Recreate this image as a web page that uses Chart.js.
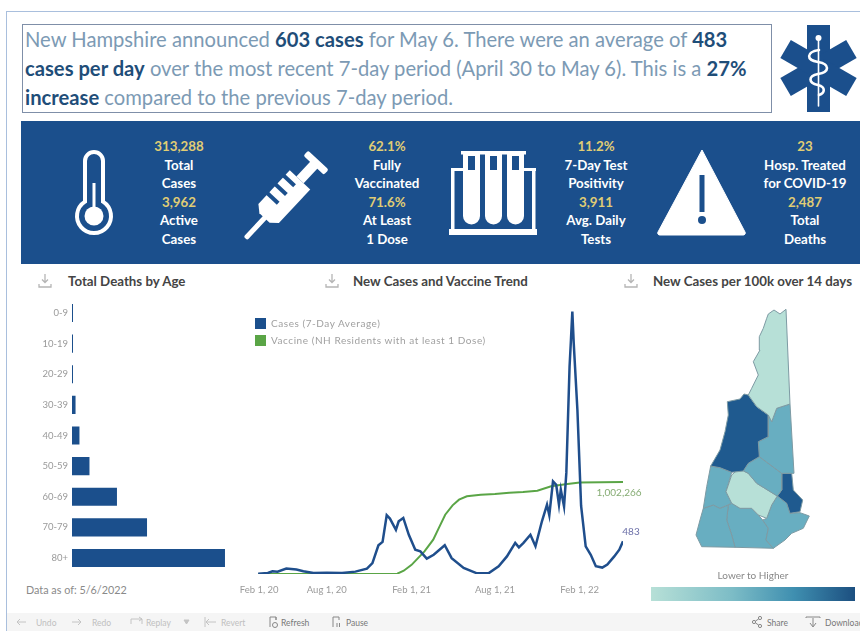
<!DOCTYPE html>
<html>
<head>
<meta charset="utf-8">
<title>New Hampshire COVID-19 Summary</title>
<script src="https://cdn.jsdelivr.net/npm/chart.js@4"></script>
<style>
    html, body { margin: 0; padding: 0; background: #fff; overflow: hidden; }
    body { width: 860px; height: 631px; position: relative; font-family: Lato, sans-serif; }
    .abs { position: absolute; }
    canvas { position: absolute; display: block; }
    #frame { left: 6px; top: 11px; width: 860px; height: 640px; border: 1px solid #a9bfdd; box-sizing: border-box; }
    #headline { left: 22px; top: 24px; width: 750px; height: 89px; border: 1px solid #7f8fa8; box-sizing: border-box;
        padding: 0 0 0 2px; font-size: 20.2px; line-height: 29px; color: #7c9ab4; white-space: nowrap; }
    #headline b { color: #1f4e79; font-weight: 700; }
    #banner { left: 21px; top: 121px; width: 839px; height: 143px; background: #1b4f8c; }
    .stat { position: absolute; top: 137px; width: 110px; text-align: center; color: #fff; font-weight: 700; font-size: 13.3px; line-height: 18.5px; white-space: nowrap; }
    .stat span { color: #e0cd74; display: block; }
    .panel-title { position: absolute; top: 273px; font-size: 13.3px; font-weight: 700; color: #444; white-space: nowrap; }
    .dl { position: absolute; top: 273px; }
    #asof { left: 26px; top: 583px; font-size: 10.8px; color: #8a8a8a; }
    .legend-row { position: absolute; left: 255px; font-size: 10px; letter-spacing: 0.55px; color: #a0a0a0; white-space: nowrap; line-height: 11px; padding-left: 16px; }
    .legend-row i { position: absolute; left: 0; top: 0; width: 11px; height: 11px; }
    #scale-label { left: 652px; width: 202px; top: 569px; text-align: center; font-size: 10px; color: #888; }
    #scale-bar { left: 651px; top: 587px; width: 204px; height: 14px; background: linear-gradient(to right, #b7e0d7, #7cbcc6 40%, #3f8fb0 70%, #1c4f80); }
    #toolbar { left: 7px; top: 613px; width: 853px; height: 18px; background: #f5f5f5; }
    .tool { position: absolute; top: 618px; font-size: 8.5px; color: #c0c0c0; white-space: nowrap; line-height: 10px; }
    .tool.on { color: #777; }
</style>
</head>
<body>
<div class="abs" id="frame"></div>
<div class="abs" id="headline">New Hampshire announced <b>603 cases</b> for May 6. There were an average of <b>483</b><br><b>cases per day</b> over the most recent 7-day period (April 30 to May 6). This is a <b>27%</b><br><b>increase</b> compared to the previous 7-day period.</div>

<svg class="abs" style="left:775px;top:20px" width="85" height="96" viewBox="775 20 85 96">
    <g fill="#1b4f8c">
        <rect x="807" y="25" width="23" height="87"/>
        <rect x="808" y="30" width="21" height="76" transform="rotate(60 818.5 68)"/>
        <rect x="808" y="30" width="21" height="76" transform="rotate(-60 818.5 68)"/>
    </g>
    <g fill="none" stroke="#fff" stroke-linecap="round">
        <line x1="818.5" y1="38" x2="818.5" y2="106" stroke-width="1.6"/>
        <path d="M819 50 C806 52 806 60 818 62 C830 64 830 72 818 74 C808 76 808 83 818 85 C826 87 825 93 819 95" stroke-width="2.6"/>
    </g>
    <circle cx="818.5" cy="38" r="3" fill="#fff"/>
</svg>

<div class="abs" id="banner"></div>
<svg class="abs" style="left:21px;top:121px" width="839" height="143" viewBox="21 121 839 143">
    <!-- thermometer -->
    <path d="M85 201.6 V161 a9 9 0 0 1 18 0 V201.6 A17 17 0 1 1 85 201.6 Z" fill="none" stroke="#fff" stroke-width="4"/>
    <circle cx="94" cy="216" r="9.5" fill="#fff"/>
    <rect x="92.5" y="183" width="3" height="28" fill="#fff"/>
    <!-- syringe -->
    <g transform="translate(285 196) rotate(-47)" fill="#fff">
        <rect x="-58" y="-2.5" width="30" height="5" rx="2"/>
        <path d="M-30 -7 L-24 -14 H22 V14 H-24 L-30 7 Z"/>
        <rect x="22" y="-5" width="22" height="10"/>
        <rect x="42" y="-14" width="7" height="28" rx="2"/>
        <g fill="#1b4f8c">
            <rect x="-12" y="-15" width="4" height="15"/>
            <rect x="0" y="-15" width="4" height="15"/>
            <rect x="12" y="-15" width="4" height="15"/>
        </g>
    </g>
    <!-- test tubes -->
    <g fill="#fff">
        <rect x="449" y="229" width="88" height="6"/>
        <rect x="451" y="168" width="3.5" height="62"/>
        <rect x="532" y="168" width="3.5" height="62"/>
        <rect x="451" y="168" width="14" height="3"/>
        <rect x="522" y="168" width="14" height="3"/>
        <rect x="461" y="151" width="65" height="3.5"/>
        <path d="M463 154 h17 v62 a8.5 8.5 0 0 1 -17 0 Z"/>
        <path d="M485 154 h17 v62 a8.5 8.5 0 0 1 -17 0 Z"/>
        <path d="M507 154 h17 v62 a8.5 8.5 0 0 1 -17 0 Z"/>
    </g>
    <g fill="#1b4f8c">
        <rect x="468" y="156" width="7" height="14"/>
        <rect x="490" y="156" width="7" height="14"/>
        <rect x="512" y="156" width="7" height="14"/>
    </g>
    <!-- warning -->
    <path d="M702 150 L745 232 a2 2 0 0 1 -2 3 H660 a2 2 0 0 1 -2 -3 Z" fill="#fff" stroke="#fff" stroke-width="1" stroke-linejoin="round"/>
    <rect x="699.5" y="175" width="5" height="37" fill="#1b4f8c"/>
    <circle cx="702" cy="220" r="4" fill="#1b4f8c"/>
</svg>

<div class="stat" style="left:124px"><span>313,288</span>Total<br>Cases<span>3,962</span>Active<br>Cases</div>
<div class="stat" style="left:332px"><span>62.1%</span>Fully<br>Vaccinated<span>71.6%</span>At Least<br>1 Dose</div>
<div class="stat" style="left:541px"><span>11.2%</span>7-Day Test<br>Positivity<span>3,911</span>Avg. Daily<br>Tests</div>
<div class="stat" style="left:750px"><span>23</span>Hosp. Treated<br>for COVID-19<span>2,487</span>Total<br>Deaths</div>

<svg class="dl" style="left:38px" width="14" height="16" viewBox="0 0 14 16"><path d="M7 1 V9 M4 6.5 L7 9.5 L10 6.5 M1 11 V14 H13 V11" fill="none" stroke="#b5b5b5" stroke-width="1.3"/></svg>
<svg class="dl" style="left:325px" width="14" height="16" viewBox="0 0 14 16"><path d="M7 1 V9 M4 6.5 L7 9.5 L10 6.5 M1 11 V14 H13 V11" fill="none" stroke="#b5b5b5" stroke-width="1.3"/></svg>
<svg class="dl" style="left:624px" width="14" height="16" viewBox="0 0 14 16"><path d="M7 1 V9 M4 6.5 L7 9.5 L10 6.5 M1 11 V14 H13 V11" fill="none" stroke="#b5b5b5" stroke-width="1.3"/></svg>
<div class="panel-title" style="left:68px">Total Deaths by Age</div>
<div class="panel-title" style="left:353px">New Cases and Vaccine Trend</div>
<div class="panel-title" style="left:653px">New Cases per 100k over 14 days</div>

<canvas id="ageChart" width="215" height="295" style="left:20px;top:288px"></canvas>
<canvas id="trendChart" width="410" height="304" style="left:235px;top:295px"></canvas>
<canvas id="mapChart" width="220" height="270" style="left:640px;top:295px"></canvas>

<div class="legend-row" style="top:318px"><i style="background:#1b4f8c"></i>Cases (7-Day Average)</div>
<div class="legend-row" style="top:335px"><i style="background:#5aa546"></i>Vaccine (NH Residents with at least 1 Dose)</div>

<div class="abs" id="asof">Data as of: 5/6/2022</div>
<div class="abs" id="scale-label">Lower to Higher</div>
<div class="abs" id="scale-bar"></div>

<div class="abs" id="toolbar"></div>
<svg class="abs" style="left:0;top:613px" width="860" height="18" viewBox="0 613 860 18" fill="none" stroke="#c4c4c4" stroke-width="1">
    <path d="M26 622 H17 M20 619 L17 622 L20 625"/>
    <path d="M72 622 H81 M78 619 L81 622 L78 625"/>
    <path d="M131 624 V619 H142 V624 M139 617 L142 619 L139 621"/>
    <path d="M184 620 L189 620 L186.5 624 Z" fill="#c4c4c4"/>
    <path d="M205 617 V627 M216 622 H206 M209 619 L206 622 L209 625"/>
    <g stroke="#888">
        <path d="M270 627 V617 H276 V620 M276 620 V617"/>
        <circle cx="275" cy="625" r="2.5"/>
        <path d="M333 627 V617 H339 V620"/>
        <path d="M337 623 V627 M339.5 623 V627"/>
        <circle cx="754" cy="622" r="1.6"/><circle cx="760" cy="618" r="1.6"/><circle cx="760" cy="626" r="1.6"/>
        <path d="M755.5 621 L758.6 619 M755.5 623 L758.6 625"/>
        <path d="M806 618 V617 H820 V618 M813 626 V618 M810 623 L813 627 L816 623"/>
    </g>
</svg>
<span class="tool" style="left:36px">Undo</span>
<span class="tool" style="left:92px">Redo</span>
<span class="tool" style="left:146px">Replay</span>
<span class="tool" style="left:221px">Revert</span>
<span class="tool on" style="left:281px">Refresh</span>
<span class="tool on" style="left:346px">Pause</span>
<span class="tool on" style="left:767px">Share</span>
<span class="tool on" style="left:825px">Download</span>

<script>
// Deaths by age group
const ageGroups = ['0-9', '10-19', '20-29', '30-39', '40-49', '50-59', '60-69', '70-79', '80+'];
const ageDeaths = [1, 2, 8, 29, 61, 143, 368, 614, 1252];

// Cases, 7-day average
const caseDates = ['2020-03-05', '2020-03-26', '2020-04-05', '2020-04-16', '2020-05-05', '2020-05-27', '2020-06-11',
    '2020-07-03', '2020-08-01', '2020-09-03', '2020-10-02', '2020-10-27', '2020-11-08', '2020-11-21', '2020-11-30',
    '2020-12-09', '2020-12-16', '2020-12-29', '2021-01-04', '2021-01-14', '2021-01-26', '2021-02-09', '2021-02-20',
    '2021-03-06', '2021-03-21', '2021-04-14', '2021-04-29', '2021-05-25', '2021-06-23', '2021-07-18', '2021-08-09',
    '2021-08-27', '2021-09-14', '2021-09-22', '2021-10-02', '2021-10-17', '2021-10-28', '2021-11-11', '2021-11-22',
    '2021-11-27', '2021-12-05', '2021-12-12', '2021-12-18', '2021-12-22', '2021-12-29', '2022-01-03', '2022-01-10',
    '2022-01-13', '2022-01-16', '2022-01-19', '2022-01-27', '2022-02-04', '2022-02-14', '2022-02-25', '2022-03-08',
    '2022-03-22', '2022-04-02', '2022-04-17', '2022-04-28', '2022-05-06'];
const caseValues = [5, 15, 40, 35, 80, 65, 40,
    15, 20, 15, 35, 80, 160, 425, 475,
    870, 820, 655, 780, 830, 580, 360, 335,
    227, 285, 425, 235, 90, 10, 10, 115,
    260, 460, 395, 460, 580, 410, 780, 1025,
    870, 1370, 1320, 1025, 1250, 1000, 1500, 3070,
    3465, 3885, 3420, 2430, 1010, 410, 285, 115,
    95, 140, 260, 360, 483];

// NH residents with at least 1 dose
const vaccineDates = ['2020-03-05', '2020-12-15', '2021-01-01', '2021-01-15', '2021-02-01', '2021-03-01', '2021-03-20',
    '2021-04-01', '2021-04-15', '2021-05-01', '2021-05-15', '2021-06-01', '2021-07-01', '2021-08-01', '2021-09-01',
    '2021-10-01', '2021-11-01', '2021-12-01', '2022-01-01', '2022-02-01', '2022-05-06'];
const vaccineValues = [0, 0, 3600, 36000, 100000, 247000, 374000,
    500000, 646000, 748000, 810000, 846000, 864000, 871000, 886000,
    893000, 908000, 955000, 977000, 998000, 1002266];

// First label sits inside the left edge in the reference, the others on their date
const trendTickDates = ['2020-03-07', '2020-08-01', '2021-02-01', '2021-08-01', '2022-02-01'];
const trendTickLabels = ['Feb 1, 20', 'Aug 1, 20', 'Feb 1, 21', 'Aug 1, 21', 'Feb 1, 22'];

// County outlines in map grid units, shade is 0 lower .. 2 higher
const coos = [[78.3,246],[84,250],[90,246],[96,250.7],[100,156],[86.7,151.7],[81.7,138.3],[78.3,145],[66.7,153.3],[58.3,165],[61.7,171.7],[68.3,185],[63.3,198.3],[70,210],[69.3,223.3],[73.3,231.7],[76.7,241.7]];
const grafton = [[54,166],[58.3,165],[66.7,153.3],[78.3,145],[78.3,123.3],[68.3,118.3],[69.3,103.3],[58.3,96.7],[53.3,89],[41.7,87.7],[30,92.3],[20.7,94],[30,110],[35,128.3],[38.3,145],[37.3,158.3],[50,161]];
const carroll = [[100,156],[86.7,151.7],[81.7,138.3],[78.3,145],[78.3,123.3],[68.3,118.3],[69.3,103.3],[91.7,86.7],[104,86.7]];
const belknap = [[69.3,103.3],[91.7,86.7],[91.7,70],[87.3,64],[66.7,76.7],[58.3,86.7],[53.3,89],[58.3,96.7]];
const strafford = [[91.7,86.7],[101.7,86.7],[103.3,70],[112.7,60],[110,48.3],[100,46.7],[96.7,56.7],[87.3,64],[91.7,70]];
const merrimack = [[49.3,91.7],[58.3,86.7],[66.7,76.7],[87.3,64],[81.7,55],[76.7,41.7],[68.3,45],[61.7,51.7],[50,51.7],[41.7,56.7],[36,68.3],[41.7,85]];
const rockingham = [[87.3,64],[96.7,56.7],[100,46.7],[110,47.3],[119.3,44],[113.3,31.7],[101.7,26.7],[95,20],[83.3,11.7],[76,20],[78.3,31.7],[72.7,40],[76.7,41.7],[81.7,55]];
const sullivan = [[20.7,94],[30,92.3],[41.7,87.7],[36,68.3],[41.7,56.7],[30,51.7],[23.3,55],[13.3,51.7],[16.7,73.3]];
const cheshire = [[13.3,51.7],[23.3,55],[30,51.7],[38.3,55],[36.7,40],[41.7,25],[45,12.7],[11.7,13.3],[6,25],[10,40]];
const hillsborough = [[38.3,55],[41.7,56.7],[50,51.7],[61.7,51.7],[68.3,45],[72.7,40],[78.3,31.7],[76,20],[83.3,11.7],[45,12.7],[41.7,25],[36.7,40]];
const counties = [coos, grafton, carroll, belknap, strafford, merrimack, rockingham, sullivan, cheshire, hillsborough];
const countyShades = [0, 2, 1, 1, 2, 0, 1, 1, 1, 1];
const shadeColors = ['#b7e0d7', '#68aec1', '#1f5a8f'];

Chart.defaults.animation = false;
Chart.defaults.font.family = 'Lato, sans-serif';

function toPoints(dates, values) {
    return dates.map((d, i) => ({ x: Date.parse(d), y: values[i] }));
}

// Horizontal bars for deaths by age
new Chart(document.getElementById('ageChart'), {
    type: 'bar',
    data: {
        labels: ageGroups,
        datasets: [{
            data: ageDeaths,
            backgroundColor: '#1b4f8c',
            barPercentage: 0.59,
            categoryPercentage: 1,
            minBarLength: 1
        }]
    },
    options: {
        indexAxis: 'y',
        responsive: false,
        layout: { padding: 0 },
        plugins: { legend: { display: false }, tooltip: { enabled: false } },
        scales: {
            x: { display: false, min: 0, max: 1334 },
            y: {
                afterFit: scale => { scale.width = 52; },
                grid: { display: false, drawTicks: false },
                border: { display: false },
                ticks: { color: '#9a9a9a', font: { size: 9.5 }, padding: 4 }
            }
        }
    }
});

// Labels the last point of each line with its value
const endLabels = {
    id: 'endLabels',
    afterDatasetsDraw(chart) {
        const { ctx } = chart;
        const settings = [
            { text: caseValues[caseValues.length - 1].toLocaleString('en-US'), color: '#6b6fa8', dx: 8, dy: -10 },
            { text: vaccineValues[vaccineValues.length - 1].toLocaleString('en-US'), color: '#86ac74', dx: -4, dy: 11 }
        ];
        settings.forEach((s, i) => {
            const last = chart.getDatasetMeta(i).data.at(-1);
            ctx.save();
            ctx.font = '10px Lato, sans-serif';
            ctx.fillStyle = s.color;
            ctx.textAlign = 'center';
            ctx.textBaseline = 'middle';
            ctx.fillText(s.text, last.x + s.dx, last.y + s.dy);
            ctx.restore();
        });
    }
};

// Cases and vaccine lines on their own hidden axes
new Chart(document.getElementById('trendChart'), {
    type: 'line',
    data: {
        datasets: [
            { data: toPoints(caseDates, caseValues), yAxisID: 'yCases', borderColor: '#1f4e8c', borderWidth: 2.5, pointRadius: 0 },
            { data: toPoints(vaccineDates, vaccineValues), yAxisID: 'yVaccine', borderColor: '#5aa546', borderWidth: 2, pointRadius: 0 }
        ]
    },
    options: {
        responsive: false,
        layout: { padding: { left: 8, right: 22, top: 5, bottom: 0 } },
        plugins: { legend: { display: false }, tooltip: { enabled: false } },
        scales: {
            x: {
                type: 'linear',
                min: Date.parse('2020-02-01'),
                max: Date.parse('2022-05-06'),
                afterBuildTicks: axis => { axis.ticks = trendTickDates.map(d => ({ value: Date.parse(d) })); },
                afterFit: scale => {
                    scale.height = 25;
                    scale.paddingLeft = 0;
                    scale.paddingRight = 0;
                },
                grid: { display: false, drawTicks: false },
                border: { display: false },
                ticks: {
                    autoSkip: false,
                    maxRotation: 0,
                    color: '#9a9a9a',
                    font: { size: 9.5 },
                    padding: 10,
                    callback: (value, i) => trendTickLabels[i]
                }
            },
            yCases: { display: false, min: 0, max: 4055 },
            yVaccine: { display: false, min: 0, max: 2985000 }
        }
    },
    plugins: [endLabels]
});

// County map as closed filled shapes
new Chart(document.getElementById('mapChart'), {
    type: 'scatter',
    data: {
        datasets: counties.map((outline, i) => ({
            data: outline.concat([outline[0]]).map(p => ({ x: p[0], y: p[1] })),
            showLine: true,
            fill: 'shape',
            backgroundColor: shadeColors[countyShades[i]],
            borderColor: '#7d9aa3',
            borderWidth: 1,
            pointRadius: 0
        }))
    },
    options: {
        responsive: false,
        layout: { padding: 0 },
        plugins: { legend: { display: false }, tooltip: { enabled: false } },
        scales: {
            x: { display: false, min: -50, max: 170 },
            y: { display: false, min: -5, max: 265 }
        }
    }
});
</script>
</body>
</html>
